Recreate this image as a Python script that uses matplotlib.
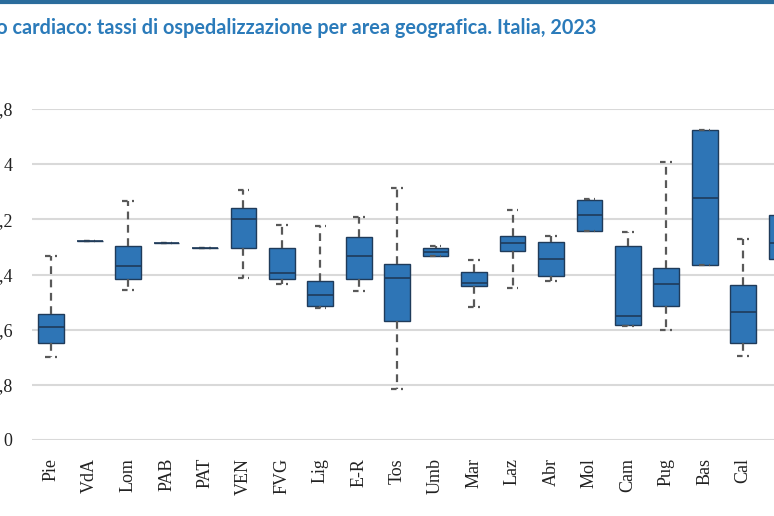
import matplotlib.pyplot as plt
import matplotlib.ticker as mticker

regioni = ['Pie', 'VdA', 'Lom', 'PAB', 'PAT', 'VEN', 'FVG', 'Lig', 'E-R', 'Tos',
           'Umb', 'Mar', 'Laz', 'Abr', 'Mol', 'Cam', 'Pug', 'Bas', 'Cal', 'Sic']
whis_low = [1.21, 2.89, 2.17, 2.86, 2.79, 2.35, 2.26, 1.91, 2.16, 0.74,
            2.67, 1.93, 2.21, 2.30, 3.03, 1.65, 1.60, 2.54, 1.22, 2.63]
q1 = [1.41, 2.89, 2.33, 2.86, 2.79, 2.79, 2.33, 1.94, 2.34, 1.73,
      2.67, 2.23, 2.74, 2.38, 3.03, 1.67, 1.94, 2.54, 1.41, 2.63]
mediana = [1.64, 2.89, 2.53, 2.86, 2.79, 3.20, 2.42, 2.10, 2.67, 2.35,
           2.73, 2.27, 2.86, 2.62, 3.26, 1.80, 2.26, 3.51, 1.85, 2.85]
q3 = [1.83, 2.89, 2.82, 2.86, 2.79, 3.36, 2.78, 2.30, 2.95, 2.55,
      2.79, 2.43, 2.96, 2.87, 3.48, 2.81, 2.49, 4.50, 2.25, 3.27]
whis_high = [2.67, 2.89, 3.46, 2.86, 2.79, 3.63, 3.12, 3.10, 3.23, 3.65,
             2.81, 2.61, 3.33, 2.96, 3.49, 3.02, 4.03, 4.50, 2.92, 3.27]
y_ticks = [0, 0.8, 1.6, 2.4, 3.2, 4.0, 4.8]

titolo = "Scompenso cardiaco: tassi di ospedalizzazione per area geografica. Italia, 2023"

stats = []
for i in range(len(regioni)):
    stats.append({'label': regioni[i], 'whislo': whis_low[i], 'q1': q1[i],
                  'med': mediana[i], 'q3': q3[i], 'whishi': whis_high[i]})

W, H = 774, 516
fig = plt.figure(figsize=(W / 100, H / 100), dpi=100)
ax = fig.add_axes([32 / W, 76 / H, 768.8 / W, 331 / H])

ax.bxp(stats, positions=range(len(regioni)), widths=0.67, patch_artist=True,
       showfliers=False, capwidths=0.3,
       boxprops=dict(facecolor='#2e75b6', edgecolor='#1f3b5a', linewidth=1.0),
       medianprops=dict(color='#1f3b5a', linewidth=1.2),
       whiskerprops=dict(color='#595959', linewidth=1.6, linestyle=(0, (3.5, 2.5))),
       capprops=dict(color='#595959', linewidth=1.6, linestyle=(0, (2.5, 2))),
       zorder=3)

ax.set_xlim(-0.5, len(regioni) - 0.5)
ax.set_ylim(0, 4.8)
ax.set_yticks(y_ticks)
ax.yaxis.set_major_formatter(mticker.FuncFormatter(lambda v, p: f"{v:g}".replace('.', ',')))
ax.set_xticks(range(len(regioni)))
# last region lies beyond the right edge of the picture: its label is not shown
ax.set_xticklabels(regioni[:-1] + [''], rotation=90)
ax.grid(axis='y', color='#d9d9d9', linewidth=1.5, zorder=0)
for s in ax.spines.values():
    s.set_visible(False)
ax.tick_params(axis='both', length=0, labelsize=13, labelcolor='#222222')
ax.tick_params(axis='y', pad=14)
ax.tick_params(axis='x', pad=13)
for lab in ax.get_xticklabels() + ax.get_yticklabels():
    lab.set_fontfamily('Liberation Serif')

fig.text(597 / W, 1 - 27.5 / H, titolo, ha='right', va='center', fontsize=14.3,
         fontweight='bold', color='#2b7bba', family='Lato')
fig.add_artist(plt.Line2D([0, 1], [1 - 1.5 / H, 1 - 1.5 / H], color='#2a6c9c', linewidth=3))

fig.savefig('out.png', dpi=100)
